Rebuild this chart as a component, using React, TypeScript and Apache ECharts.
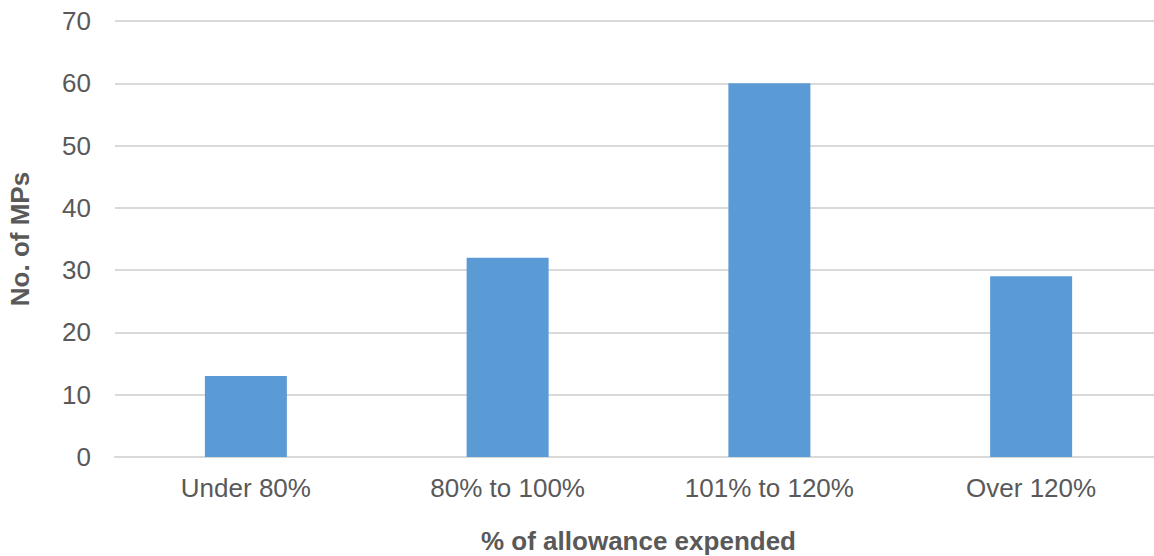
import React, { useEffect, useRef } from "react";
import * as echarts from "echarts";

const categories = ["Under 80%", "80% to 100%", "101% to 120%", "Over 120%"];
const mpCounts = [13, 32, 60, 29];
const yTicks = { min: 0, max: 70, interval: 10 };
const xTitle = "% of allowance expended";
const yTitle = "No. of MPs";

export default function App() {
  const ref = useRef<HTMLDivElement>(null);
  useEffect(() => {
    if (!ref.current) return;
    const chart = echarts.init(ref.current, null, { renderer: "svg" });
    const font = "'Liberation Sans', Arial, sans-serif";
    chart.setOption({
      animation: false,
      backgroundColor: "#ffffff",
      grid: {
        left: 115,
        top: 21,
        width: 1047,
        height: 436,
        containLabel: false,
        outerBoundsMode: "none",
      },
      xAxis: {
        type: "category",
        data: categories,
        name: xTitle,
        nameLocation: "middle",
        nameGap: 71,
        nameTextStyle: { fontFamily: font, fontSize: 26, fontWeight: "bold", color: "#595959" },
        axisLine: { show: true, lineStyle: { color: "#D9D9D9", width: 2 } },
        axisTick: { show: false },
        axisLabel: { fontFamily: font, fontSize: 26, color: "#595959", margin: 18 },
        splitLine: { show: false },
      },
      yAxis: {
        type: "value",
        min: yTicks.min,
        max: yTicks.max,
        interval: yTicks.interval,
        name: yTitle,
        nameLocation: "middle",
        nameGap: 82,
        nameTextStyle: { fontFamily: font, fontSize: 26, fontWeight: "bold", color: "#595959" },
        axisLine: { show: false },
        axisTick: { show: false },
        axisLabel: { fontFamily: font, fontSize: 26, color: "#595959", margin: 24 },
        splitLine: { show: true, lineStyle: { color: "#D9D9D9", width: 2 } },
      },
      series: [
        {
          type: "bar",
          data: mpCounts,
          barWidth: 82,
          itemStyle: { color: "#5B9BD5" },
        },
      ],
    });
    return () => chart.dispose();
  }, []);
  return (
    <div
      ref={ref}
      style={{ position: "absolute", left: 0, top: 0, width: 1154, height: 556 }}
    />
  );
}
